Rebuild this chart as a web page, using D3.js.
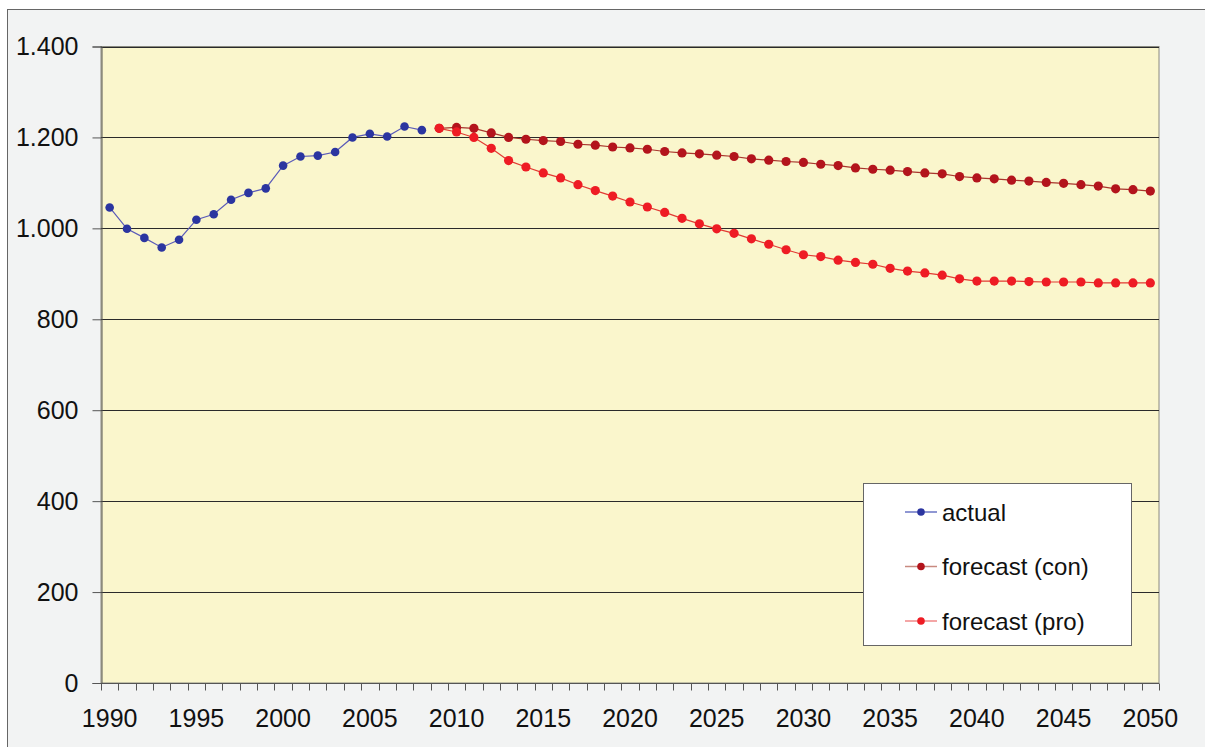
<!DOCTYPE html>
<html>
<head>
<meta charset="utf-8">
<script src="https://cdn.jsdelivr.net/npm/d3@7"></script>
<style>
  html, body { margin: 0; padding: 0; background: #ffffff; }
  svg { display: block; font-family: "Liberation Sans", Arial, sans-serif; }
</style>
</head>
<body>
<svg id="chart" width="1205" height="747"></svg>
<script>
// Years on the category axis
const years = d3.range(1990, 2051);
const tickYears = [1990, 1995, 2000, 2005, 2010, 2015, 2020, 2025, 2030, 2035, 2040, 2045, 2050];
const yTicks = [0, 200, 400, 600, 800, 1000, 1200, 1400];

// Observed values 1990–2008
const actualYears = d3.range(1990, 2009);
const actual = [1046, 999, 979, 958, 975, 1019, 1031, 1063, 1078, 1088,
                1138, 1158, 1160, 1168, 1200, 1208, 1202, 1224, 1216];

// Forecast values 2009–2050
const forecastYears = d3.range(2009, 2051);
const forecastCon = [1220, 1222, 1220, 1210, 1200, 1196, 1193, 1191, 1185, 1183,
                     1179, 1177, 1174, 1169, 1166, 1164, 1161, 1158, 1153, 1150,
                     1147, 1145, 1141, 1138, 1133, 1130, 1128, 1125, 1122, 1120,
                     1114, 1111, 1109, 1106, 1104, 1101, 1099, 1096, 1093, 1087,
                     1085, 1082];
const forecastPro = [1220, 1212, 1200, 1176, 1149, 1135, 1122, 1111, 1096, 1083,
                     1071, 1058, 1047, 1035, 1022, 1010, 999, 989, 977, 965,
                     953, 942, 938, 930, 925, 921, 912, 906, 902, 897,
                     889, 884, 884, 884, 883, 882, 882, 882, 880, 880,
                     880, 880];

const seriesNames = ["actual", "forecast (con)", "forecast (pro)"];

const svg = d3.select("#chart");
const W = 1205, H = 747;

// Outer chart frame
svg.append("rect").attr("x", 0).attr("y", 0).attr("width", W).attr("height", H).attr("fill", "#ffffff");
svg.append("rect").attr("x", 7.5).attr("y", 9.5).attr("width", W).attr("height", H)
  .attr("fill", "#f2f3f3").attr("stroke", "#666").attr("stroke-width", 1);

const plot = { left: 101, right: 1159, top: 46.5, bottom: 683 };

const x = d3.scaleBand().domain(years).range([plot.left, plot.right]).padding(0);
const y = d3.scaleLinear().domain([0, 1400]).range([plot.bottom, plot.top]);
const cx = d => x(d) + x.bandwidth() / 2;

// Plot background
svg.append("rect")
  .attr("x", plot.left).attr("y", plot.top)
  .attr("width", plot.right - plot.left).attr("height", plot.bottom - plot.top)
  .attr("fill", "#faf6cc").attr("stroke", "#8a8a80").attr("stroke-width", 1);

// Horizontal gridlines
svg.append("g").selectAll("line").data(yTicks.filter(v => v > 0)).join("line")
  .attr("x1", plot.left).attr("x2", plot.right)
  .attr("y1", d => Math.round(y(d)) + 0.5).attr("y2", d => Math.round(y(d)) + 0.5)
  .attr("stroke", "#2a2a2a").attr("stroke-width", 1);

// Y axis
const yAxis = d3.axisLeft(y).tickValues(yTicks).tickSize(9).tickPadding(14)
  .tickFormat(d => d3.format(",")(d).replace(/,/g, "."));
const gy = svg.append("g").attr("transform", `translate(${plot.left + 0.5},0)`).call(yAxis);
gy.select(".domain").attr("stroke", "#555");
gy.selectAll(".tick line").attr("stroke", "#555");
gy.selectAll(".tick text").attr("font-size", 25).attr("fill", "#111")
  .attr("font-family", "Liberation Sans, Arial, sans-serif");

// X axis: ticks between categories, labels every five years
const gx = svg.append("g").attr("transform", `translate(0,${plot.bottom + 0.5})`);
gx.append("line").attr("x1", plot.left).attr("x2", plot.right).attr("stroke", "#555");
const boundaries = years.map(d => x(d)).concat([plot.right]);
gx.selectAll("line.tk").data(boundaries).join("line").attr("class", "tk")
  .attr("x1", d => Math.round(d) + 0.5).attr("x2", d => Math.round(d) + 0.5)
  .attr("y1", 0).attr("y2", 7).attr("stroke", "#555");
gx.selectAll("text").data(tickYears).join("text")
  .attr("x", d => cx(d)).attr("y", 43)
  .attr("text-anchor", "middle").attr("font-size", 25).attr("fill", "#111")
  .text(d => d);

// Series
const series = [
  { name: seriesNames[0], yrs: actualYears, vals: actual, line: "#5a5ab8", dot: "#2b35a0", r: 4.3 },
  { name: seriesNames[1], yrs: forecastYears, vals: forecastCon, line: "#a8352c", dot: "#b3141c", r: 4.6 },
  { name: seriesNames[2], yrs: forecastYears, vals: forecastPro, line: "#e23a32", dot: "#ee1c24", r: 4.6 }
];

const lineGen = d3.line().x(d => cx(d[0])).y(d => y(d[1]));

series.forEach(s => {
  const pts = s.yrs.map((yr, i) => [yr, s.vals[i]]);
  svg.append("path").datum(pts).attr("d", lineGen)
    .attr("fill", "none").attr("stroke", s.line).attr("stroke-width", 1.2);
  svg.append("g").selectAll("circle").data(pts).join("circle")
    .attr("cx", d => cx(d[0])).attr("cy", d => y(d[1])).attr("r", s.r)
    .attr("fill", s.dot);
});

// Legend
const lg = svg.append("g");
lg.append("rect").attr("x", 863.5).attr("y", 483.5).attr("width", 268).attr("height", 162)
  .attr("fill", "#ffffff").attr("stroke", "#666").attr("stroke-width", 1);
const legendLine = ["#6a74c4", "#c88a80", "#f08888"];
series.forEach((s, i) => {
  const ly = 512 + i * 54.5;
  lg.append("line").attr("x1", 905).attr("x2", 937).attr("y1", ly).attr("y2", ly)
    .attr("stroke", legendLine[i]).attr("stroke-width", 1.5);
  lg.append("circle").attr("cx", 921).attr("cy", ly).attr("r", 3.8).attr("fill", s.dot);
  lg.append("text").attr("x", 942).attr("y", ly + 8.5)
    .attr("font-size", 24).attr("fill", "#111").text(s.name);
});
</script>
</body>
</html>
